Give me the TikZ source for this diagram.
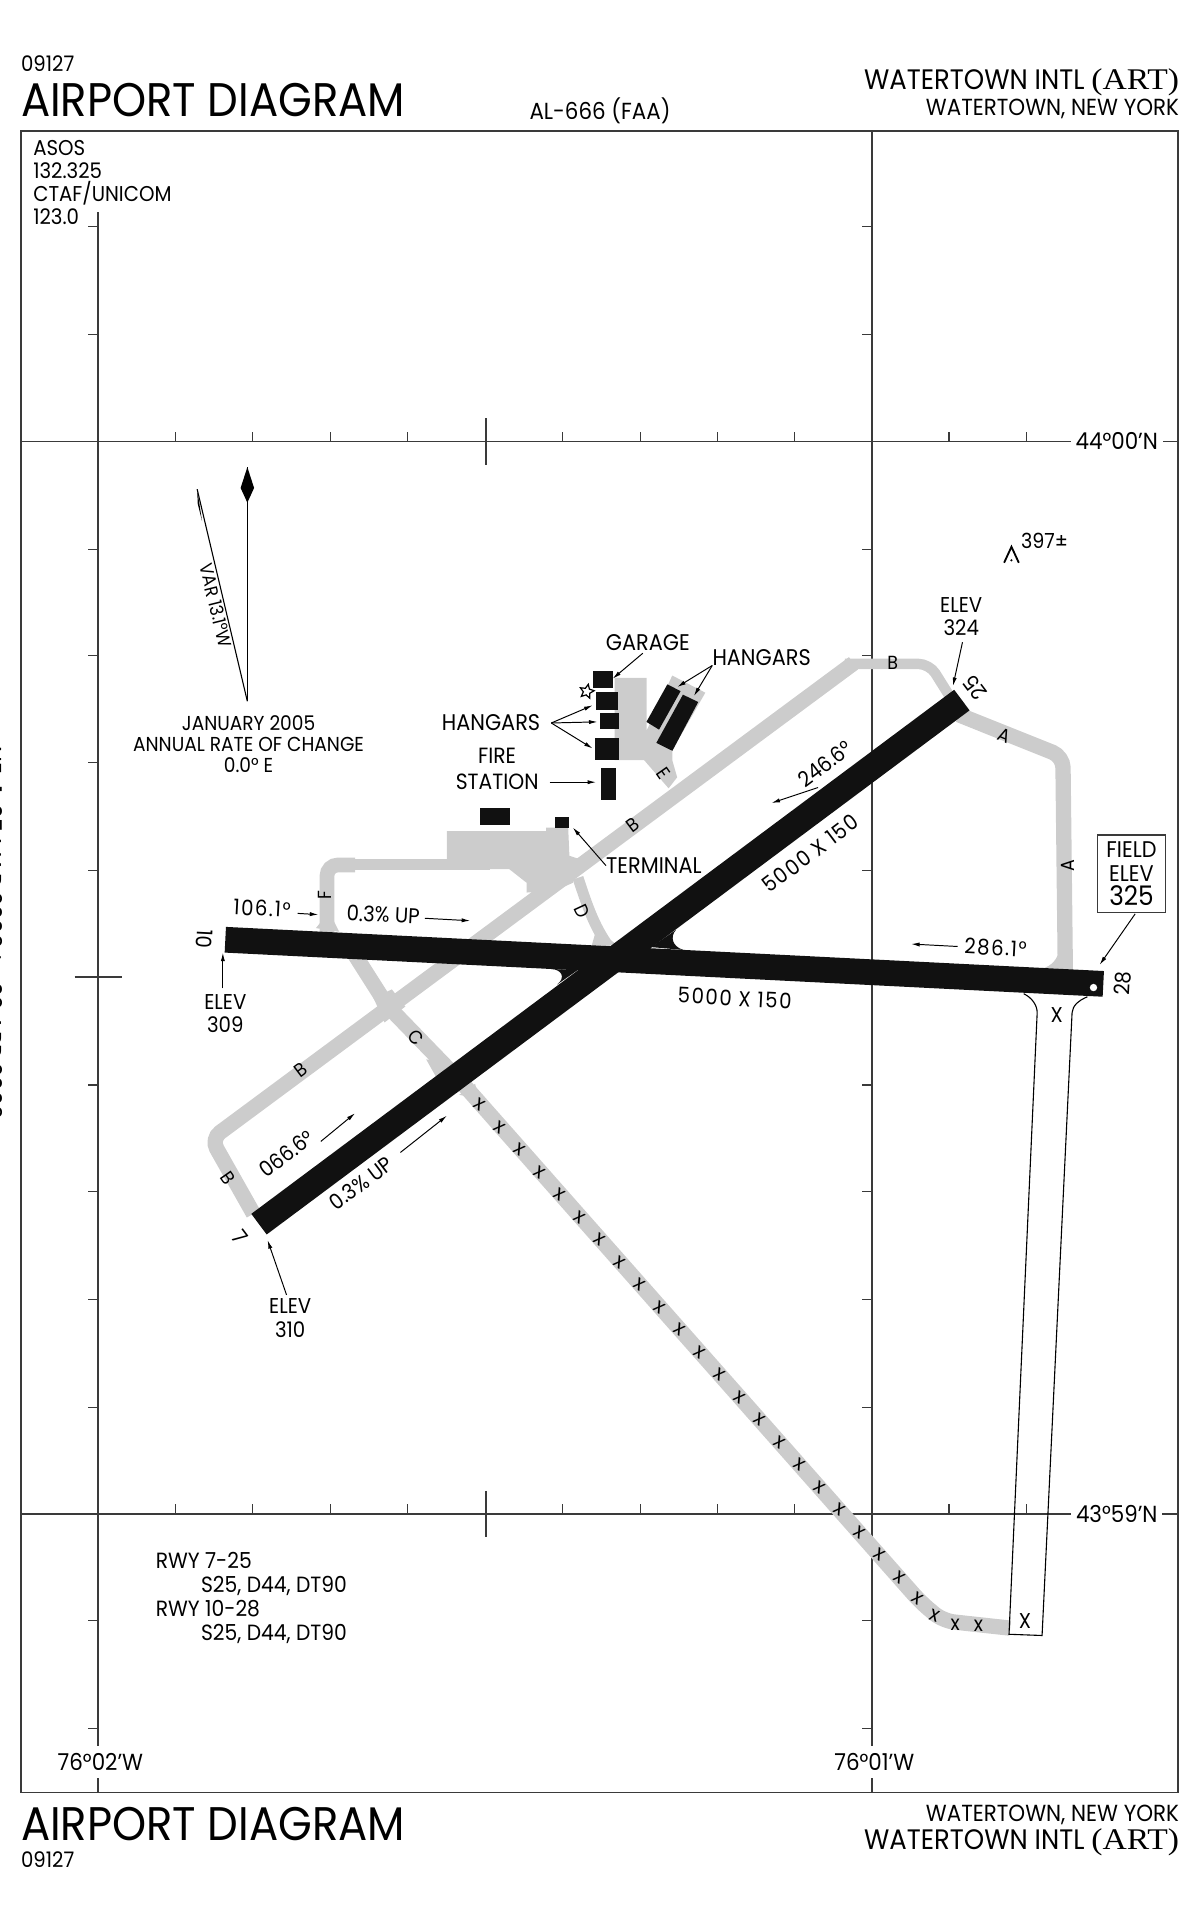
\documentclass[tikz,border=0pt]{standalone}
\usepackage{fontspec}
\setmainfont[FakeStretch=0.92]{Poppins}
\newfontfamily\artfont[FakeStretch=1.12]{Liberation Serif}
\usetikzlibrary{arrows.meta,shapes.geometric}
\definecolor{taxigray}{HTML}{CCCCCC}
\definecolor{rwyblack}{HTML}{111111}
\definecolor{gridgray}{HTML}{3A3A3A}
\tikzset{
	lbl/.style={inner sep=0pt, align=center, font=\fontsize{17.5}{19}\selectfont},
	numlbl/.style={lbl, font=\fontsize{17.5}{19}\selectfont\addfontfeature{LetterSpace=7}},
	latlbl/.style={lbl, fill=white, inner xsep=4pt, inner ysep=3pt, font=\fontsize{19}{19}\selectfont},
	big/.style={inner sep=0pt, font=\fontsize{38.5}{38.5}\selectfont},
	head/.style={inner sep=0pt, font=\fontsize{23}{23}\selectfont},
	sub/.style={inner sep=0pt, font=\fontsize{19}{19}\selectfont},
	gridline/.style={gridgray, line width=1.2pt},
	tick/.style={gridgray, line width=.9pt},
	taxi/.style={taxigray, line width=12.5pt, rounded corners=9pt},
	rwy/.style={rwyblack, line width=21pt},
	bldg/.style={fill=rwyblack},
	ptr/.style={black, line width=.8pt, -{Latex[length=7pt,width=3.4pt]}},
	closed/.style={black, line width=.9pt},
	twy/.style={lbl, font=\fontsize{15.5}{15.5}\selectfont},
	xmark/.style={inner sep=0pt, font=\fontsize{17}{17}\selectfont}
}
\begin{document}
\begin{tikzpicture}[x=1pt, y=-1.0012pt]
	\useasboundingbox (0,0) rectangle (980,1567.7);
	% frame and grid
	\draw[gridgray, line width=1.3pt] (17,107) rectangle (962,1462);
	\draw[gridline] (17,360) -- (962,360);
	\draw[gridline] (17,1235) -- (962,1235);
	\draw[gridline] (80,173) -- (80,1462);
	\draw[gridline] (712,107) -- (712,1462);
	\draw[gridline] (397,341) -- (397,379);
	\draw[gridline] (397,1216) -- (397,1254);
	\draw[gridline] (61,797) -- (100,797);
	\foreach \y in {360,1235}
		\foreach \x in {143,206,270,333,459,523,586,649,775,838}
			\draw[tick] (\x,\y) -- ++(0,-8);
	\foreach \x in {80,712}
		\foreach \y in {185,273,448,535,622,710,885,972,1060,1148,1322,1410}
			\draw[tick] (\x,\y) -- ++(-8,0);
	% taxiways and aprons
	\fill[taxigray] (365,701) -- (365,678) -- (446,678) -- (446,675) -- (464,675) -- (465,698) -- (471,700) -- (490,700) -- (490,700) -- (468,715) -- (468,720) -- (452,727) -- (430,728) -- (430,720) -- (416,709) -- (300,709) -- (300,701) -- cycle;
	\fill[taxigray] (502,553) -- (528,553) -- (528,596) -- (549,551) -- (576,565) -- (549,612) -- (549,620) -- (553,634) -- (546,643) -- (526,620) -- (502,620) -- cycle;
	\draw[taxi] (207,990) -- (172.5,929) -- (697,541);
	\draw[taxi, line width=8.5pt] (690,541.5) -- (759,541.5) -- (780,575);
	\draw[taxi] (783,583) -- (868,617) -- (870,792);
	\fill[taxigray] (865,774) .. controls (864,782) and (859,788) .. (851,790) -- (866,790) -- cycle;
	\draw[taxi, line width=8.5pt] (275,705) -- (400,705);
	\draw[taxi, line width=12pt] (267,762) -- (267,705.5) -- (290,705.5);
	\fill[taxigray] (258,757) -- (262,752) -- (272,750) -- (277,760) -- cycle;
	\draw[taxi, line width=9pt] (472,716) .. controls (480,740) and (485,755) .. (497,772);
	\fill[taxigray] (483,772) -- (487,758) -- (503,770) -- cycle;
	\fill[taxigray] (305,814) -- (320,807) -- (331,821) -- (314,834) -- cycle;
	\draw[taxi] (288,776) -- (316,820) -- (378,884) -- (752,1307) -- (770,1322) -- (825,1328);
	\fill[taxigray] (348,864) -- (371,869) -- (357,880) -- cycle;
	\fill[taxigray] (375,893) -- (388,884) -- (391,896) -- cycle;
	% closed runway
	\draw[closed] (836,810.5) .. controls (843,814) and (847,820) .. (847,826) -- (824,1333) -- (851,1334) -- (875.5,826) .. controls (876,820) and (881,816) .. (888,813);
	% runways
	\coordinate (rw10) at (184,766.5);
	\coordinate (rw28) at (901,802.5);
	\coordinate (rw7) at (211.5,998.5);
	\coordinate (rw25) at (785.5,571);
	\draw[rwy] (rw10) -- (rw28);
	\draw[rwy] (rw7) -- (rw25);
	\fill[rwyblack] (531.8,772.5) -- (552,758.5) .. controls (547,764) and (549,772) .. (558,774.8) -- cycle;
	\fill[rwyblack] (471.5,791.4) -- (450,790.3) .. controls (459,790.8) and (462,797.5) .. (455,803) -- cycle;
	\fill[white] (893,805.5) circle (3);
	% buildings
	\fill[bldg] (484.6,547.4) rectangle (500.3,561);
	\fill[bldg] (486.8,564.5) rectangle (504.4,578.8);
	\fill[bldg] (490.3,581.3) rectangle (505.2,594.3);
	\fill[bldg] (486.2,601.8) rectangle (505.7,620);
	\fill[bldg] (490.8,626.8) rectangle (503.3,652.5);
	\fill[bldg] (392,659.3) rectangle (416.4,673.3);
	\fill[bldg] (452.9,666.6) rectangle (464.6,675.5);
	\fill[bldg] (545,558.2) -- (555.8,563.7) -- (538.2,595.1) -- (527.9,588.8) -- cycle;
	\fill[bldg] (557.7,566.6) -- (570.2,572.6) -- (549.1,612.4) -- (536,605.9) -- cycle;
	\node[star, star points=5, star point ratio=2.1, draw=black, line width=1pt, inner sep=0pt, minimum size=12pt, rotate=-12] (tower) at (479.2,564) {};
	% obstacle
	\draw[black, line width=1.5pt] (820,459) -- (826,446) -- (832,459);
	\fill[black] (826,457) circle (1);
	\node[lbl, font=\fontsize{17}{17}\selectfont] (obstelev) at (853,441) {397±};
	% north arrow
	\coordinate (northfoot) at (202,572);
	\coordinate (northtip) at (202,381);
	\coordinate (vartip) at (161,399);
	\draw[black, line width=.9pt] (northfoot) -- (northtip);
	\fill[black] (northtip) -- (207.5,398) -- (202,410) -- (196.5,398) -- cycle;
	\draw[black, line width=.9pt] (northfoot) -- (vartip);
	\fill[black] (vartip) -- (165,425) -- (161.5,411) -- cycle;
	\node[lbl, font=\fontsize{15}{15}\selectfont, rotate=-76] (varlbl) at (176.5,494) {VAR 13.1°W};
	\node[lbl, font=\fontsize{16.5}{17}\selectfont] (changelbl) at (203,607) {JANUARY 2005\\ANNUAL RATE OF CHANGE\\0.0° E};
	% text blocks
	\node[big, anchor=west] (titletop) at (17,82) {AIRPORT DIAGRAM};
	\node[big, anchor=west] (titlebot) at (17,1488) {AIRPORT DIAGRAM};
	\node[lbl, anchor=west] (cycletop) at (17,52) {09127};
	\node[lbl, anchor=west] (cyclebot) at (17,1517) {09127};
	\node[sub] (alnum) at (490,90) {AL-666 (FAA)};
	\node[head, anchor=east] (airporttop) at (963,67) {WATERTOWN INTL {\artfont\fontsize{24.5}{24.5}\selectfont(ART)}};
	\node[sub, anchor=east] (citytop) at (963,89) {WATERTOWN, NEW YORK};
	\node[sub, anchor=east] (citybot) at (963,1480) {WATERTOWN, NEW YORK};
	\node[head, anchor=east] (airportbot) at (963,1503) {WATERTOWN INTL {\artfont\fontsize{24.5}{24.5}\selectfont(ART)}};
	\node[lbl, anchor=north west, align=left] (comms) at (27,114) {ASOS\\132.325\\CTAF/UNICOM\\123.0};
	\node[lbl, anchor=north west, align=left, font=\fontsize{18}{19.5}\selectfont] (rwy7info) at (127,1266) {RWY 7-25\\\hspace*{37pt}S25, D44, DT90\\RWY 10-28\\\hspace*{37pt}S25, D44, DT90};
	\node[latlbl] (lat44) at (912,360) {44°00’N};
	\node[latlbl] (lat43) at (912,1235) {43°59’N};
	\node[latlbl, inner ysep=6pt] (lon02) at (82,1437) {76°02’W};
	\node[latlbl, inner ysep=6pt] (lon01) at (714,1437) {76°01’W};
	\node[lbl, rotate=-90, anchor=north, font=\fontsize{20}{20}\selectfont] (edgenote) at (2,761) {NE-1, 05 MAR 2009 to 02 APR 2009};
	% runway ends and data
	\node[lbl, rotate=-93] (num10) at (167,766) {10};
	\node[lbl, rotate=87] (num28) at (917,802) {28};
	\node[lbl, rotate=-53] (num7) at (196,1009) {7};
	\node[lbl, rotate=127] (num25) at (796,561) {25};
	\node[numlbl, rotate=37] (len725) at (662,696) {5000 X 150};
	\node[numlbl, rotate=-3] (len1028) at (600,814) {5000 X 150};
	\node[lbl, rotate=37] (brg246) at (674,623) {246.6°};
	\node[lbl, rotate=37] (brg066) at (234,941) {066.6°};
	\node[lbl, rotate=37] (grad7) at (295,965) {0.3\% UP};
	\node[numlbl, rotate=-3] (brg106) at (214,741) {106.1°};
	\node[lbl, rotate=-3] (grad10) at (313,746) {0.3\% UP};
	\node[numlbl, rotate=-3] (brg286) at (813,773) {286.1°};
	\node[lbl] (elev324) at (785,503) {ELEV\\324};
	\node[lbl] (elev309) at (184,827) {ELEV\\309};
	\node[lbl] (elev310) at (237,1075) {ELEV\\310};
	\node[lbl, draw=gridgray, line width=.9pt, minimum width=56pt, minimum height=63pt, font=\fontsize{18.5}{19.5}\selectfont] (fieldelev) at (924,712.5) {FIELD\\ELEV\\{\fontsize{22}{19.5}\selectfont 325}};
	% building labels
	\node[lbl, font=\fontsize{18.5}{19}\selectfont] (garagelbl) at (529,524) {GARAGE};
	\node[lbl, font=\fontsize{18.5}{19}\selectfont] (hangarse) at (622,536) {HANGARS};
	\node[lbl, font=\fontsize{18.5}{19}\selectfont] (hangarsw) at (401,589) {HANGARS};
	\node[lbl, font=\fontsize{18}{21}\selectfont] (firelbl) at (406,627) {FIRE\\STATION};
	\node[lbl, font=\fontsize{18.5}{19}\selectfont] (termlbl) at (534,706) {TERMINAL};
	% taxiway letters
	\node[twy] (twyb1) at (729,541) {B};
	\node[twy, rotate=37] (twyb2) at (517,673) {B};
	\node[twy, rotate=37] (twyb3) at (246,873) {B};
	\node[twy, rotate=-55] (twyb4) at (186,961) {B};
	\node[twy, rotate=-22] (twya1) at (820,600) {A};
	\node[twy, rotate=90] (twya2) at (872,706) {A};
	\node[twy, rotate=-55] (twye) at (542,631) {E};
	\node[twy, rotate=90] (twyf) at (265,730) {F};
	\node[twy, rotate=-65] (twyd) at (475,743) {D};
	\node[twy, rotate=-45] (twyc) at (340,846) {C};
	\node[lbl] (closedx1) at (863,828) {X};
	\node[lbl] (closedx2) at (837,1322) {X};
	% closed taxiway marks
	\foreach \i in {0,...,21}
		\node[xmark, rotate=-35] (xm\i) at (392+16.3*\i,901+18.35*\i) {x};
	\node[xmark, rotate=-35] (xmb) at (749,1304) {x};
	\node[xmark, rotate=-20] (xmc) at (763,1318) {x};
	\node[xmark] (xmd) at (780,1325) {x};
	\node[xmark] (xme) at (799,1326) {x};
	% pointers
	\coordinate (tipgarage) at (500.3,553.6);
	\coordinate (tipe1) at (553,560.4);
	\coordinate (tipe2) at (566.7,567.7);
	\coordinate (tailw) at (450.2,589.7);
	\coordinate (tipw1) at (484,575.3);
	\coordinate (tipw2) at (488,588.8);
	\coordinate (tipw3) at (484,610.5);
	\coordinate (tailfire) at (448.9,638);
	\coordinate (tipfire) at (486.8,638);
	\coordinate (tipterm) at (467.8,675);
	\draw[ptr] (garagelbl.south) ++(-4,2) -- (tipgarage);
	\draw[ptr] (hangarse.south west) -- (tipe1);
	\draw[ptr] (hangarse.south west) -- (tipe2);
	\draw[ptr] (tailw) -- (tipw1);
	\draw[ptr] (tailw) -- (tipw2);
	\draw[ptr] (tailw) -- (tipw3);
	\draw[ptr] (tailfire) -- (tipfire);
	\draw[ptr] (termlbl.west) -- (tipterm);
	\draw[ptr] (elev324.south) ++(1,5) -- (778.2,559.6);
	\draw[ptr] (fieldelev.south) ++(3,1) -- (898,787);
	\draw[ptr] (elev309.north) ++(-2,-5) -- (182,777);
	\draw[ptr] (elev310.north) ++(-3,-3) -- (218.5,1011.5);
	\draw[ptr] (brg246.south) ++(-10,14) -- (630,655);
	\draw[ptr] (262,931) -- (290,908);
	\draw[ptr] (327,940) -- (365,910);
	\draw[ptr] (243,745) -- (260,746);
	\draw[ptr] (347,749) -- (384,751);
	\draw[ptr] (782,772) -- (744,770);
\end{tikzpicture}
\end{document}
